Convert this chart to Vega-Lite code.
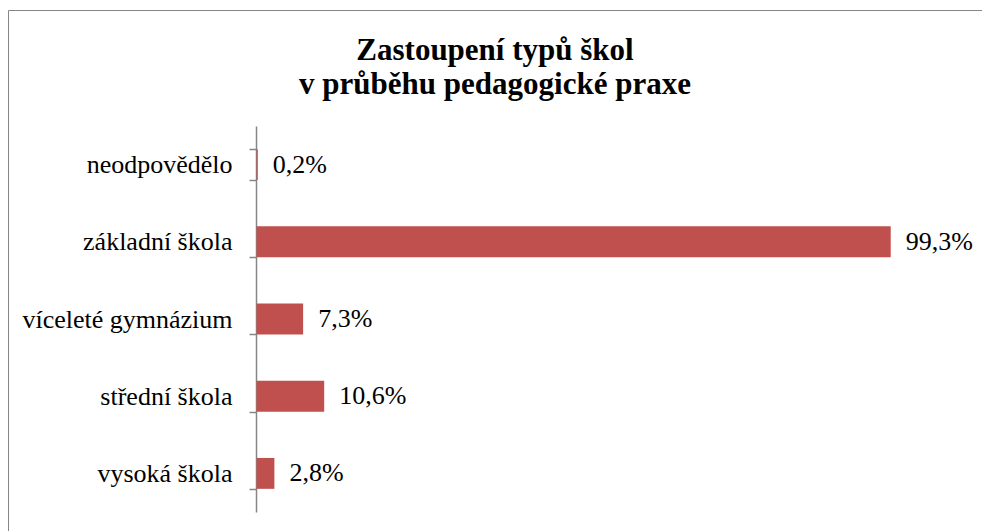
{
  "$schema": "https://vega.github.io/schema/vega-lite/v6.json",
  "autosize": "none",
  "padding": {"left": 8, "top": 10, "right": 0, "bottom": 0},
  "width": 974,
  "height": 530,
  "background": "white",
  "title": {
    "text": ["Zastoupení typů škol", "v průběhu pedagogické praxe"],
    "font": "Liberation Serif, Times New Roman, DejaVu Serif, serif",
    "fontSize": 31,
    "fontWeight": "bold",
    "color": "black",
    "lineHeight": 34,
    "anchor": "middle",
    "frame": "group",
    "baseline": "alphabetic",
    "offset": 0,
    "dy": 128
  },
  "data": {
    "values": [
      {"kategorie": "neodpovědělo", "podil": 0.2, "popisek": "0,2%"},
      {"kategorie": "základní škola", "podil": 99.3, "popisek": "99,3%"},
      {"kategorie": "víceleté gymnázium", "podil": 7.3, "popisek": "7,3%"},
      {"kategorie": "střední škola", "podil": 10.6, "popisek": "10,6%"},
      {"kategorie": "vysoká škola", "podil": 2.8, "popisek": "2,8%"}
    ]
  },
  "encoding": {
    "y": {
      "field": "kategorie",
      "type": "nominal",
      "sort": null,
      "scale": {"range": [116, 502], "paddingInner": 0.6, "paddingOuter": 0.3},
      "axis": {
        "title": null,
        "offset": -248,
        "domainColor": "#868686",
        "domainWidth": 1.5,
        "tickColor": "#868686",
        "tickWidth": 1.5,
        "tickSize": 7,
        "tickBand": "extent",
        "labelFont": "Liberation Serif, Times New Roman, DejaVu Serif, serif",
        "labelFontSize": 26,
        "labelColor": "black",
        "labelPadding": 17,
        "labelLimit": 400,
        "grid": false
      }
    },
    "x": {
      "field": "podil",
      "type": "quantitative",
      "scale": {"domain": [0, 100], "range": [248.5, 887.2], "nice": false},
      "axis": null
    }
  },
  "layer": [
    {"mark": {"type": "bar", "color": "#C0504D"}},
    {
      "mark": {"type": "text", "align": "left", "baseline": "middle", "dx": 15, "font": "Liberation Serif, Times New Roman, DejaVu Serif, serif", "fontSize": 26, "color": "black"},
      "encoding": {"text": {"field": "popisek"}}
    }
  ],
  "config": {
    "view": {"stroke": "#868686", "strokeWidth": 1}
  }
}
